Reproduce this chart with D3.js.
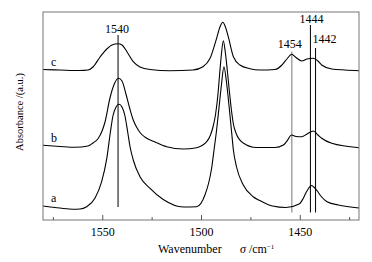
<!DOCTYPE html>
<html>
<head>
<meta charset="utf-8">
<script src="https://cdn.jsdelivr.net/npm/d3@7"></script>
<style>
  body { margin: 0; background: #fff; }
  svg text { font-family: "Liberation Serif", "Times New Roman", serif; fill: #000; }
</style>
</head>
<body>
<div id="chart"></div>
<script>
// Spectrum a, b, c: wavenumber (cm-1) / absorbance (a.u.)
const wnA = [1580, 1571.4, 1564.8, 1561.3, 1557.9, 1553.7, 1550.3, 1547.7, 1545.8, 1544.6, 1543, 1541.5, 1540, 1538.5, 1537.2, 1536, 1534.3, 1530.9, 1525.8, 1519.1, 1509, 1502.2, 1498, 1496, 1494.6, 1493.4, 1492.1, 1490.9, 1489.6, 1488.4, 1487.1, 1485.8, 1484.6, 1483.6, 1482, 1478.6, 1473.6, 1470.2, 1463.8, 1457, 1450.3, 1448.4, 1446.9, 1445.4, 1444.1, 1442.9, 1441.3, 1439.3, 1436.4, 1430.5, 1420];
const absA = [14, 12, 10.8, 11, 13.3, 21.7, 38.3, 61.7, 89, 104, 113, 115.7, 113, 104, 89, 74, 60, 43.3, 31.7, 20.5, 13, 13.3, 25, 38, 52, 70, 90, 112, 136, 153.3, 138, 114, 90, 70, 53, 35, 23.3, 19.5, 14, 12.5, 16, 21, 27, 32, 34.5, 33, 29.5, 24, 18.5, 15, 12];
const wnB = [1580, 1571.4, 1563.8, 1557.2, 1554.7, 1552, 1550.1, 1548.6, 1546.1, 1544.1, 1541.8, 1540, 1538, 1536, 1534.3, 1532.5, 1530.9, 1527.5, 1523.3, 1517.4, 1509, 1502.2, 1497.1, 1495.2, 1493.8, 1492.6, 1491.5, 1490.6, 1489.7, 1488.7, 1487.7, 1486.7, 1485.6, 1484.6, 1483.6, 1482.1, 1478.6, 1471.9, 1462.5, 1458.3, 1456.7, 1454.1, 1451.9, 1449, 1446.3, 1443.1, 1440.8, 1438.9, 1433.8, 1420];
const absB = [74.7, 73.5, 72.7, 74, 77, 81.7, 89, 98, 122, 135, 141.7, 139, 126, 111, 100, 92.5, 87.5, 81.7, 78, 73.3, 71, 72.3, 78.3, 85, 94, 106, 124, 145, 165, 179.3, 168, 150, 128, 110, 96, 86, 77, 72.5, 72.5, 75, 78.3, 85, 83.5, 83.3, 86, 89, 85, 81.7, 76.7, 72.3];
const wnC = [1580, 1571.4, 1561.3, 1557.2, 1554.7, 1551.1, 1547.7, 1545.1, 1542, 1540, 1537.5, 1534.3, 1530.9, 1525.8, 1515.7, 1504.1, 1499, 1495.4, 1492.1, 1490.4, 1489, 1487.8, 1486.2, 1483.6, 1480.3, 1475.2, 1470.1, 1462.5, 1459, 1456.5, 1454.1, 1451.9, 1449, 1446.3, 1443.1, 1440.8, 1438.9, 1433.8, 1427.1, 1420];
const absC = [150.5, 150, 149.5, 150, 153, 163, 171, 175, 176.3, 175, 168.3, 158.3, 153, 150.5, 149.3, 150, 153.3, 161.7, 181.7, 193, 197.7, 194, 183.3, 163.3, 155, 151.3, 150, 150.5, 155, 161, 165.7, 162.5, 159, 161, 161.7, 159, 155, 151, 150, 149.3];

const seriesNames = ['a', 'b', 'c'];
const seriesLabelAbs = [14, 74, 150.5];

// Marked bands
const peakWn = [1542, 1454, 1444.6, 1442];
const peakText = ['1540', '1454', '1444', '1442'];
const peakTop = [35, 51.7, 25, 48];
const peakColor = ['#000', '#777', '#000', '#000'];

const majorTicks = [1550, 1500, 1450];
const minorTicks = [1575, 1525, 1475, 1425];

const W = 372, H = 262;
const margin = { top: 12, right: 13, bottom: 42, left: 43 };
const width = W - margin.left - margin.right;
const height = H - margin.top - margin.bottom;

const svg = d3.select('#chart').append('svg')
    .attr('width', W)
    .attr('height', H);

const g = svg.append('g')
    .attr('transform', 'translate(' + margin.left + ',' + margin.top + ')');

let x = d3.scaleLinear().domain([1580, 1420]).range([0, width]);
let y = d3.scaleLinear().domain([0, 208]).range([height, 0]);

const series = [
    { name: 'a', wn: wnA, ab: absA },
    { name: 'b', wn: wnB, ab: absB },
    { name: 'c', wn: wnC, ab: absC }
];

const line = d3.line()
    .x(function(d) { return x(d[0]); })
    .y(function(d) { return y(d[1]); })
    .curve(d3.curveMonotoneX);

// vertical band markers
peakWn.forEach(function(w, i) {
    g.append('line')
        .attr('x1', x(w)).attr('x2', x(w))
        .attr('y1', peakTop[i] - margin.top)
        .attr('y2', i === 0 ? y(13) : y(7.5))
        .style('stroke', peakColor[i])
        .style('stroke-width', 1);
});

series.forEach(function(s) {
    g.append('path')
        .datum(d3.zip(s.wn, s.ab))
        .attr('d', line)
        .style('fill', 'none')
        .style('stroke', '#000')
        .style('stroke-width', 1.1);
});

// curve labels
seriesNames.forEach(function(n, i) {
    g.append('text')
        .attr('x', 8)
        .attr('y', y(seriesLabelAbs[i]) - 4)
        .style('font-size', '12px')
        .text(n);
});

// peak labels
const labelPos = [
    { dx: -1, y: 33, anchor: 'middle' },
    { dx: -2, y: 47.5, anchor: 'middle' },
    { dx: 1, y: 23, anchor: 'middle' },
    { dx: -3, y: 43, anchor: 'start' }
];
peakText.forEach(function(t, i) {
    g.append('text')
        .attr('x', x(peakWn[i]) + labelPos[i].dx)
        .attr('y', labelPos[i].y - margin.top)
        .attr('text-anchor', labelPos[i].anchor)
        .style('font-size', '12px')
        .text(t);
});

// frame
g.append('rect')
    .attr('x', 0).attr('y', 0)
    .attr('width', width).attr('height', height)
    .style('fill', 'none')
    .style('stroke', '#777')
    .style('stroke-width', 1);

// ticks (inside)
const xAxis = d3.axisBottom(x).tickValues(majorTicks).tickSize(-5).tickPadding(7)
    .tickFormat(d3.format('d'));
const axisG = g.append('g')
    .attr('transform', 'translate(0,' + height + ')')
    .call(xAxis);
axisG.select('.domain').remove();
axisG.selectAll('.tick line').style('stroke', '#555');
axisG.selectAll('.tick text')
    .style('font-size', '12px')
    .style('font-family', '"Liberation Serif", serif');

const minorAxis = d3.axisBottom(x).tickValues(minorTicks).tickSize(-3).tickFormat('');
const minorG = g.append('g')
    .attr('transform', 'translate(0,' + height + ')')
    .call(minorAxis);
minorG.select('.domain').remove();
minorG.selectAll('.tick line').style('stroke', '#555');

// axis titles
const xt = svg.append('text')
    .attr('x', 158)
    .attr('y', 252.5)
    .style('font-size', '12px');
xt.append('tspan').text('Wavenumber');
xt.append('tspan').attr('x', 240).style('font-style', 'italic').text('σ');
xt.append('tspan').text(' /cm');
xt.append('tspan').attr('dy', -4).style('font-size', '7px').text('−1');

svg.append('text')
    .attr('transform', 'translate(23,112) rotate(-90)')
    .attr('text-anchor', 'middle')
    .style('font-size', '10.5px')
    .text('Absorbance /(a.u.)');
</script>
</body>
</html>
